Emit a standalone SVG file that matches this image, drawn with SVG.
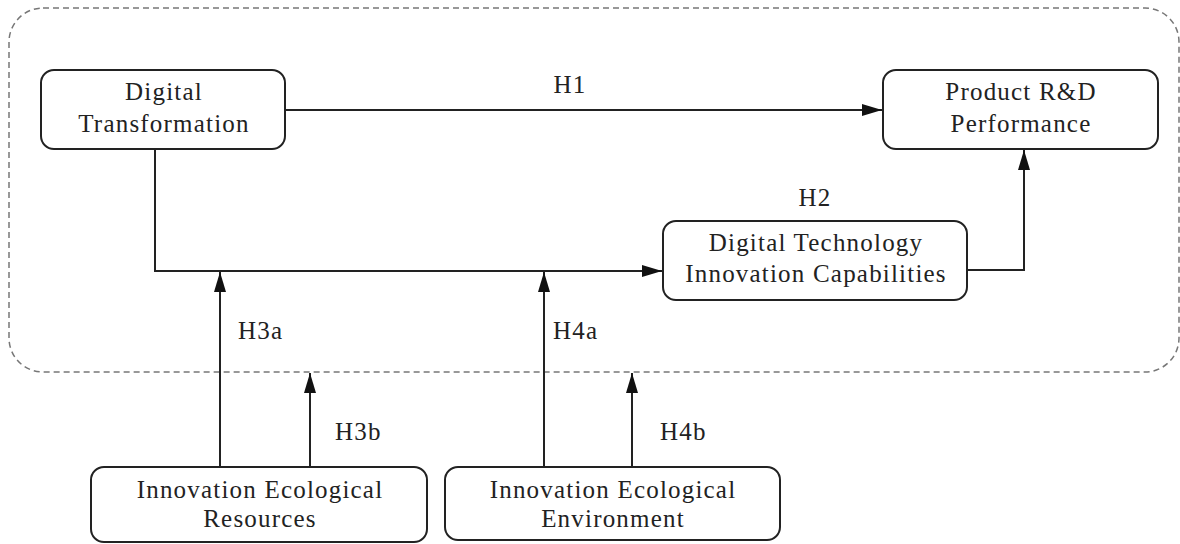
<svg xmlns="http://www.w3.org/2000/svg" width="1180" height="544" viewBox="0 0 1180 544">
<style>
.box{fill:#fff;stroke:#222;stroke-width:2}
.t{font-family:"Liberation Serif","DejaVu Serif",serif;font-size:25px;letter-spacing:1.2px;fill:#222;text-anchor:middle}
.lbl{font-family:"Liberation Serif","DejaVu Serif",serif;font-size:25px;letter-spacing:1.2px;fill:#222}
.c{fill:none;stroke:#222;stroke-width:2}
</style>
<defs>
<marker id="ahv" viewBox="0 0 20 12" refX="20" refY="6" markerWidth="20" markerHeight="12" markerUnits="userSpaceOnUse" orient="auto">
<path d="M0,0 L20,6 L0,12 Z" fill="#111"/>
</marker>
</defs>
<rect id="frame" x="9" y="8" width="1170" height="364" rx="34" ry="34" fill="none" stroke="#777" stroke-width="1.5" stroke-dasharray="6,4"/>
<g id="connectors">
<path class="c" d="M285,110 H882" marker-end="url(#ahv)"/>
<path class="c" d="M155,149 V271 H662" marker-end="url(#ahv)"/>
<path class="c" d="M967,270 H1024 V150" marker-end="url(#ahv)"/>
<path class="c" d="M220,467 V272" marker-end="url(#ahv)"/>
<path class="c" d="M310,467 V373" marker-end="url(#ahv)"/>
<path class="c" d="M544,467 V272" marker-end="url(#ahv)"/>
<path class="c" d="M632,467 V373" marker-end="url(#ahv)"/>
<text class="t" x="570" y="93">H1</text>
<text class="t" x="815" y="206">H2</text>
<text class="lbl" x="238" y="339">H3a</text>
<text class="lbl" x="335" y="440">H3b</text>
<text class="lbl" x="553" y="339">H4a</text>
<text class="lbl" x="660" y="440">H4b</text>
</g>
<g id="digital-transformation">
<rect class="box" x="41" y="70" width="244" height="79" rx="13"/>
<text class="t" x="164" y="100">Digital</text>
<text class="t" x="164" y="132">Transformation</text>
</g>
<g id="product-rd">
<rect class="box" x="883" y="70" width="275" height="79" rx="13"/>
<text class="t" x="1021" y="100">Product R&amp;D</text>
<text class="t" x="1021" y="132">Performance</text>
</g>
<g id="digital-technology">
<rect class="box" x="663" y="221" width="304" height="79" rx="13"/>
<text class="t" x="816" y="251">Digital Technology</text>
<text class="t" x="816" y="282">Innovation Capabilities</text>
</g>
<g id="eco-resources">
<rect class="box" x="91" y="467" width="336" height="75" rx="13"/>
<text class="t" x="260" y="498">Innovation Ecological</text>
<text class="t" x="260" y="527">Resources</text>
</g>
<g id="eco-environment">
<rect class="box" x="445" y="467" width="335" height="73" rx="13"/>
<text class="t" x="613" y="498">Innovation Ecological</text>
<text class="t" x="613" y="527">Environment</text>
</g>
</svg>
